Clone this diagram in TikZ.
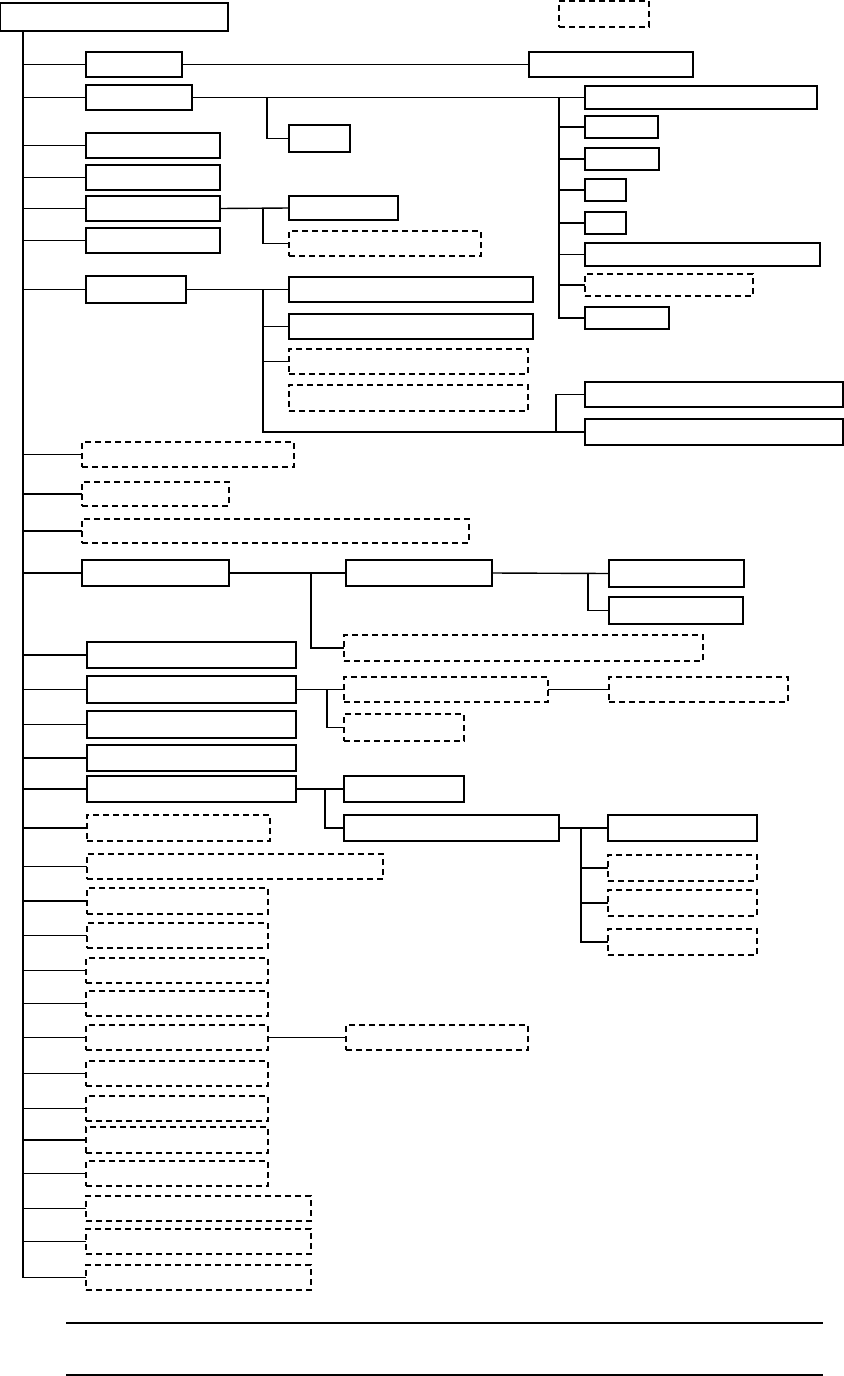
\documentclass[tikz,border=0pt]{standalone}
\usetikzlibrary{calc}

\tikzset{
  frame/.style={draw, line width=0.8pt, inner sep=0pt, outer sep=0pt, anchor=north west},
  solidbox/.style={frame},
  dashbox/.style={frame, dash pattern=on 3pt off 2pt},
  boxsize/.style 2 args={minimum width=#1*0.5pt, minimum height=#2*0.5pt},
  link/.style={line width=0.7pt}
}

\begin{document}
\begin{tikzpicture}[x=0.5pt, y=-0.5pt]
\useasboundingbox (0,0) rectangle (844,1376);

\node[solidbox, boxsize={228}{28}] (root) at (0,3) {};
\node[dashbox, boxsize={90}{26}] (legend) at (559,1) {};

% first level
\node[solidbox, boxsize={96}{25}] (a1) at (86,52) {};
\node[solidbox, boxsize={106}{25}] (a2) at (86,85) {};
\node[solidbox, boxsize={134}{25}] (a3) at (86,133) {};
\node[solidbox, boxsize={134}{25}] (a4) at (86,165) {};
\node[solidbox, boxsize={134}{25}] (a5) at (86,196) {};
\node[solidbox, boxsize={134}{25}] (a6) at (86,228) {};
\node[solidbox, boxsize={100}{27}] (a7) at (86,276) {};
\node[dashbox, boxsize={212}{25}] (a8) at (82,442) {};
\node[dashbox, boxsize={147}{24}] (a9) at (82,482) {};
\node[dashbox, boxsize={387}{24}] (a10) at (82,519) {};
\node[solidbox, boxsize={147}{26}] (a11) at (82,560) {};
\node[solidbox, boxsize={209}{26}] (a12) at (87,642) {};
\node[solidbox, boxsize={209}{27}] (a13) at (87,676) {};
\node[solidbox, boxsize={209}{27}] (a14) at (87,711) {};
\node[solidbox, boxsize={209}{26}] (a15) at (87,745) {};
\node[solidbox, boxsize={209}{26}] (a16) at (87,776) {};
\node[dashbox, boxsize={183}{26}] (a17) at (87,815) {};
\node[dashbox, boxsize={296}{25}] (a18) at (87,854) {};
\node[dashbox, boxsize={181}{26}] (a19) at (87,888) {};
\node[dashbox, boxsize={181}{25}] (a20) at (87,923) {};
\node[dashbox, boxsize={182}{25}] (a21) at (86,958) {};
\node[dashbox, boxsize={182}{25}] (a22) at (86,991) {};
\node[dashbox, boxsize={182}{25}] (a23) at (86,1025) {};
\node[dashbox, boxsize={182}{25}] (a24) at (86,1061) {};
\node[dashbox, boxsize={182}{25}] (a25) at (86,1096) {};
\node[dashbox, boxsize={182}{26}] (a26) at (86,1127) {};
\node[dashbox, boxsize={182}{25}] (a27) at (86,1161) {};
\node[dashbox, boxsize={225}{25}] (a28) at (86,1196) {};
\node[dashbox, boxsize={225}{25}] (a29) at (86,1229) {};
\node[dashbox, boxsize={225}{25}] (a30) at (86,1265) {};

\coordinate (tr) at (23,0);
\draw[link] (root.south -| tr) -- (a30.west -| tr);
\foreach \n in {1,...,30}
  \draw[link] (a\n.west -| tr) -- (a\n.west);

% a1, a2
\node[solidbox, boxsize={164}{25}] (aa) at (529,52) {};
\draw[link] (a1.east) -- (aa.west);

\node[solidbox, boxsize={61}{27}] (s1) at (289,125) {};
\node[solidbox, boxsize={232}{23}] (b1) at (585,86) {};
\node[solidbox, boxsize={73}{22}] (b2) at (585,116) {};
\node[solidbox, boxsize={74}{22}] (b3) at (585,148) {};
\node[solidbox, boxsize={41}{22}] (b4) at (585,179) {};
\node[solidbox, boxsize={41}{22}] (b5) at (585,212) {};
\node[solidbox, boxsize={235}{23}] (b6) at (585,243) {};
\node[dashbox, boxsize={168}{22}] (b7) at (585,274) {};
\node[solidbox, boxsize={84}{22}] (b8) at (585,307) {};
\coordinate (f2a) at (267,97.5);
\coordinate (f2b) at (559,97.5);
\draw[link] (a2.east) -- (b1.west);
\draw[link] (f2a) |- (s1.west);
\foreach \n in {2,...,8}
  \draw[link] (f2b) |- (b\n.west);

% a5
\node[solidbox, boxsize={109}{24}] (c1) at (289,196) {};
\node[dashbox, boxsize={192}{25}] (c2) at (289,231) {};
\coordinate (f5) at (263,208.5);
\draw[link] (a5.east) -- (c1.west);
\draw[link] (f5) |- (c2.west);

% a7
\node[solidbox, boxsize={244}{25}] (d1) at (289,277) {};
\node[solidbox, boxsize={244}{25}] (d2) at (289,314) {};
\node[dashbox, boxsize={239}{25}] (d3) at (289,349) {};
\node[dashbox, boxsize={239}{26}] (d4) at (289,385) {};
\node[solidbox, boxsize={258}{25}] (e1) at (585,382) {};
\node[solidbox, boxsize={258}{26}] (e2) at (585,419) {};
\coordinate (f7) at (263,289.5);
\coordinate (f7b) at (556,432);
\draw[link] (a7.east) -- (d1.west);
\draw[link] (f7) |- (d2.west);
\draw[link] (f7) |- (d3.west);
\draw[link] (f7) |- (e2.west);
\draw[link] (f7b) |- (e1.west);

% a11
\node[solidbox, boxsize={146}{26}] (g1) at (346,560) {};
\node[dashbox, boxsize={359}{26}] (g2) at (344,635) {};
\node[solidbox, boxsize={135}{27}] (h1) at (609,560) {};
\node[solidbox, boxsize={134}{27}] (h2) at (609,597) {};
\coordinate (f11) at (311,573);
\coordinate (f11b) at (588,573);
\draw[link] (a11.east) -- (g1.west);
\draw[link] (f11) |- (g2.west);
\draw[link] (g1.east) -- (h1.west);
\draw[link] (f11b) |- (h2.west);

% a13
\node[dashbox, boxsize={204}{25}] (i1) at (344,677) {};
\node[dashbox, boxsize={120}{27}] (i2) at (344,714) {};
\node[dashbox, boxsize={179}{25}] (j1) at (609,677) {};
\coordinate (f13) at (327,689.5);
\draw[link] (a13.east) -- (i1.west);
\draw[link] (f13) |- (i2.west);
\draw[link] (i1.east) -- (j1.west);

% a16
\node[solidbox, boxsize={120}{26}] (k1) at (344,776) {};
\node[solidbox, boxsize={215}{26}] (k2) at (344,815) {};
\node[solidbox, boxsize={149}{26}] (m1) at (608,815) {};
\node[dashbox, boxsize={149}{26}] (m2) at (608,855) {};
\node[dashbox, boxsize={149}{26}] (m3) at (608,890) {};
\node[dashbox, boxsize={149}{26}] (m4) at (608,929) {};
\coordinate (f16) at (325,789);
\coordinate (f16b) at (581,828);
\draw[link] (a16.east) -- (k1.west);
\draw[link] (f16) |- (k2.west);
\draw[link] (k2.east) -- (m1.west);
\foreach \n in {2,3,4}
  \draw[link] (f16b) |- (m\n.west);

% a23
\node[dashbox, boxsize={182}{25}] (n1) at (346,1025) {};
\draw[link] (a23.east) -- (n1.west);

\draw[link] (66,1323) -- (823,1323);
\draw[link] (66,1375) -- (823,1375);
\end{tikzpicture}
\end{document}
